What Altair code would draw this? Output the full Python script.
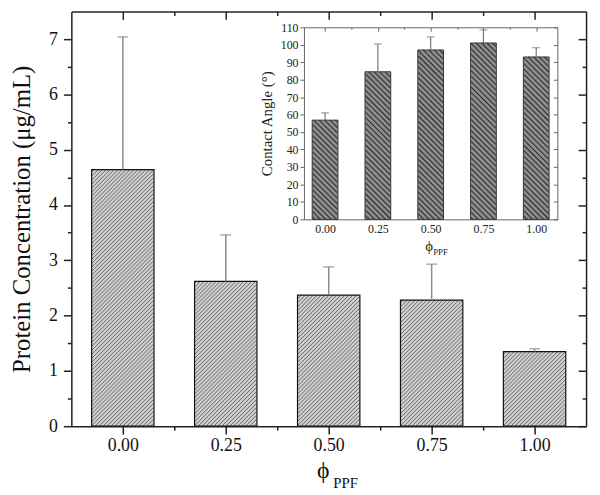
import math
import altair as alt
import pandas as pd

# ---------------- data ----------------
phi = [0.0, 0.25, 0.5, 0.75, 1.0]
protein = [4.64, 2.62, 2.37, 2.28, 1.35]
protein_hi = [7.04, 3.46, 2.88, 2.93, 1.40]
angle = [56.8, 84.5, 97.0, 101.0, 93.0]
angle_hi = [61.0, 100.5, 104.5, 108.5, 98.3]

x_ticks = [0.0, 0.125, 0.25, 0.375, 0.5, 0.625, 0.75, 0.875, 1.0]
y_ticks_main = [0, 0.5, 1, 1.5, 2, 2.5, 3, 3.5, 4, 4.5, 5, 5.5, 6, 6.5, 7]
y_ticks_inset = [0, 10, 20, 30, 40, 50, 60, 70, 80, 90, 100, 110]
x_ticks_inset = [0.0, 0.125, 0.25, 0.375, 0.5, 0.625, 0.75, 0.875, 1.0]

# ---------------- layout ----------------
W, H = 520, 419
XD, YD = [-0.125, 1.125], [0, 7.5]
IXR, IYR = [235, 491], [210, 16]
IXD, IYD = [-0.1, 1.1], [0, 110]
FONT = "Liberation Serif"

df_main = pd.DataFrame({"phi": phi, "v": protein, "hi": protein_hi})
df_in = pd.DataFrame({"phi": phi, "v": angle, "hi": angle_hi})


def hatch(centers, values, xdom, ydom, xpx, ypx, barw, period, up):
    sx = xpx / (xdom[1] - xdom[0])
    sy = ypx / (ydom[1] - ydom[0])
    rows = []
    for cv, v in zip(centers, values):
        cx = (cv - xdom[0]) * sx
        L, R = cx - barw / 2, cx + barw / 2
        h = (v - ydom[0]) * sy
        if up:
            ks = range(math.ceil((L - h) / period), math.floor(R / period) + 1)
        else:
            ks = range(math.ceil(L / period), math.floor((R + h) / period) + 1)
        for k in ks:
            c = k * period
            if up:
                xa, xb = max(L, c), min(R, c + h)
                ya, yb = xa - c, xb - c
            else:
                xa, xb = max(L, c - h), min(R, c)
                ya, yb = c - xa, c - xb
            if xb - xa < 0.4:
                continue
            rows.append({
                "x": xdom[0] + xa / sx, "x2": xdom[0] + xb / sx,
                "y": ydom[0] + ya / sy, "y2": ydom[0] + yb / sy,
            })
    return pd.DataFrame(rows)


h_main = hatch(phi, protein, XD, YD, W, H, 62, 4.0, True)
h_in = hatch(phi, angle, IXD, IYD, IXR[1] - IXR[0], IYR[0] - IYR[1], 25, 5.5, False)

# ---------------- scales ----------------
sx_main = alt.Scale(domain=XD, nice=False, zero=False, padding=0)
sy_main = alt.Scale(domain=YD, nice=False, padding=0)
sx_in = alt.Scale(domain=IXD, nice=False, zero=False, range=IXR, padding=0)
sy_in = alt.Scale(domain=IYD, nice=False, range=IYR, padding=0)

minor_x = "(datum.value * 4) % 1 != 0"
minor_y = "datum.value % 1 != 0"

ax_bottom = alt.Axis(
    orient="bottom", values=x_ticks, labelExpr=f"{minor_x} ? '' : format(datum.value, '.2f')",
    tickSize={"condition": {"test": minor_x, "value": 4}, "value": 8},
    labelFontSize=18, labelPadding=3, labelFlush=False, labelOverlap=False,
    domainColor="#222", domainWidth=1.5, tickColor="#222", tickWidth=1.5, labelColor="#111",
    title="ϕ", titleFontSize=24, titleFontWeight="normal", titleColor="#111",
    titleX=254, titleY=52, titleAlign="center", titleBaseline="alphabetic",
)
ax_left = alt.Axis(
    orient="left", values=y_ticks_main, labelExpr=f"{minor_y} ? '' : format(datum.value, 'd')",
    tickSize={"condition": {"test": minor_y, "value": 4}, "value": 8},
    labelFontSize=18, labelPadding=6, labelOverlap=False, labelFlush=False,
    domainColor="#222", domainWidth=1.5, tickColor="#222", tickWidth=1.5, labelColor="#111",
    title="Protein Concentration (μg/mL)", titleFontSize=25, titleFontWeight="normal",
    titleColor="#111", titlePadding=14,
)
ax_top_mirror = alt.Axis(
    orient="bottom", offset=-H, values=x_ticks, labels=False,
    tickSize={"condition": {"test": minor_x, "value": 4}, "value": 8},
    domainColor="#222", domainWidth=1.5, tickColor="#222", tickWidth=1.5,
    title="PPF", titleFontSize=15, titleFontWeight="normal", titleColor="#111",
    titleX=264, titleY=H + 62, titleAlign="left", titleBaseline="alphabetic",
)
ax_right_mirror = alt.Axis(
    orient="left", offset=-W, values=y_ticks_main, labels=False,
    tickSize={"condition": {"test": minor_y, "value": 4}, "value": 8},
    domainColor="#222", domainWidth=1.5, tickColor="#222", tickWidth=1.5, title=None,
)

ICOL = "#666"
ax_in_bottom = alt.Axis(
    orient="bottom", offset=-(H - IYR[0]), values=phi, format=".2f",
    ticks=False, labelFontSize=12, labelPadding=4, labelFlush=False, labelOverlap=False,
    domainColor=ICOL, domainWidth=1, labelColor="#222",
    title="ϕ", titleFontSize=15, titleFontWeight="normal", titleColor="#222",
    titleX=361, titleY=32, titleAlign="center", titleBaseline="alphabetic",
)
ax_in_left = alt.Axis(
    orient="left", offset=-IXR[0], values=y_ticks_inset, tickSize=4,
    labelFontSize=12, labelPadding=2, labelOverlap=False, labelFlush=False,
    domainColor=ICOL, domainWidth=1, tickColor=ICOL, tickWidth=1, labelColor="#222",
    title="Contact Angle (°)", titleFontSize=15, titleFontWeight="normal",
    titleColor="#222", titlePadding=6,
)
ax_in_top = alt.Axis(
    orient="bottom", offset=-(H - IYR[1]), values=x_ticks_inset, labels=False,
    tickSize={"condition": {"test": minor_x, "value": 2}, "value": 4},
    domainColor=ICOL, domainWidth=1, tickColor=ICOL, tickWidth=1,
    title="PPF", titleFontSize=9, titleFontWeight="normal", titleColor="#222",
    titleX=365, titleY=230, titleAlign="left", titleBaseline="alphabetic",
)
ax_in_right = alt.Axis(
    orient="left", offset=-IXR[1], values=y_ticks_inset, labels=False, tickSize=4,
    domainColor=ICOL, domainWidth=1, tickColor=ICOL, tickWidth=1, title=None,
)

# ---------------- main panel ----------------
main_bars = alt.Chart(df_main).mark_bar(size=63, color="#d0d0d0", orient="vertical").encode(
    x=alt.X("phi:Q", scale=sx_main, axis=ax_bottom),
    y=alt.Y("v:Q", scale=sy_main, axis=ax_left),
)
main_hatch = alt.Chart(h_main).mark_rule(color="#666", strokeWidth=1.0).encode(
    x=alt.X("x:Q", scale=sx_main, axis=ax_top_mirror), x2="x2:Q",
    y=alt.Y("y:Q", scale=sy_main, axis=ax_right_mirror), y2="y2:Q",
)
main_outline = alt.Chart(df_main).mark_bar(
    size=63, fillOpacity=0, stroke="#111", strokeWidth=1.2, orient="vertical"
).encode(
    x=alt.X("phi:Q", scale=sx_main, axis=None),
    y=alt.Y("v:Q", scale=sy_main, axis=None),
)
main_err = alt.Chart(df_main).mark_rule(color="#8c8c8c", strokeWidth=1.5).encode(
    x=alt.X("phi:Q", scale=sx_main, axis=None),
    y=alt.Y("v:Q", scale=sy_main, axis=None), y2="hi:Q",
)
main_cap = alt.Chart(df_main).mark_tick(
    orient="horizontal", size=11, thickness=1.5, color="#8c8c8c"
).encode(
    x=alt.X("phi:Q", scale=sx_main, axis=None),
    y=alt.Y("hi:Q", scale=sy_main, axis=None),
)

# ---------------- inset panel ----------------
in_bars = alt.Chart(df_in).mark_bar(size=26, color="#8e8e8e", orient="vertical").encode(
    x=alt.X("phi:Q", scale=sx_in, axis=ax_in_bottom),
    y=alt.Y("v:Q", scale=sy_in, axis=ax_in_left),
)
in_hatch = alt.Chart(h_in).mark_rule(color="#2e2e2e", strokeWidth=1.1).encode(
    x=alt.X("x:Q", scale=sx_in, axis=ax_in_top), x2="x2:Q",
    y=alt.Y("y:Q", scale=sy_in, axis=ax_in_right), y2="y2:Q",
)
in_outline = alt.Chart(df_in).mark_bar(
    size=26, fillOpacity=0, stroke="#333", strokeWidth=1, orient="vertical"
).encode(
    x=alt.X("phi:Q", scale=sx_in, axis=None),
    y=alt.Y("v:Q", scale=sy_in, axis=None),
)
in_err = alt.Chart(df_in).mark_rule(color="#777", strokeWidth=1.2).encode(
    x=alt.X("phi:Q", scale=sx_in, axis=None),
    y=alt.Y("v:Q", scale=sy_in, axis=None), y2="hi:Q",
)
in_cap = alt.Chart(df_in).mark_tick(
    orient="horizontal", size=8, thickness=1.2, color="#777"
).encode(
    x=alt.X("phi:Q", scale=sx_in, axis=None),
    y=alt.Y("hi:Q", scale=sy_in, axis=None),
)

chart = alt.layer(
    main_bars, main_hatch, main_outline, main_err, main_cap,
    in_bars, in_hatch, in_outline, in_err, in_cap,
).resolve_scale(
    x="independent", y="independent"
).properties(
    width=W, height=H, padding={"left": 2, "top": 0, "right": 5, "bottom": 0},
    background="white",
).configure_axis(
    labelFont=FONT, titleFont=FONT, grid=False,
).configure_view(stroke=None)

chart.save("out.html", embed_options={"renderer": "svg", "actions": False})
